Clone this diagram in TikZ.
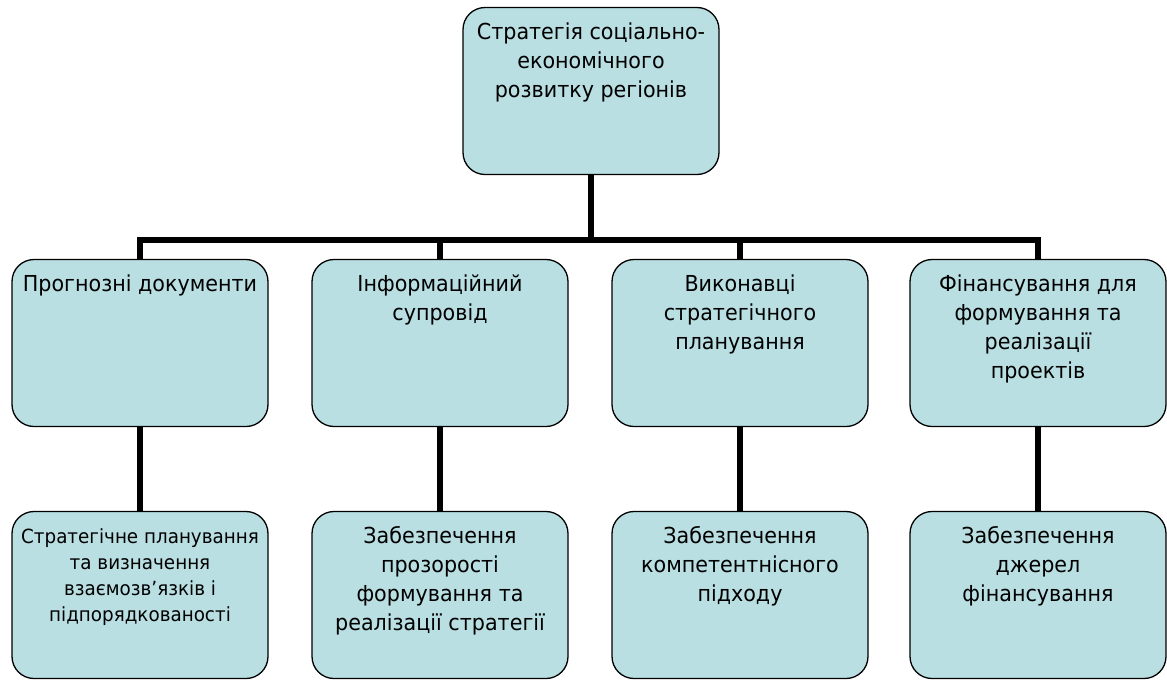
\documentclass[tikz,border=0pt]{standalone}
\usepackage{fontspec}
\setmainfont{DejaVu Sans}[FakeStretch=0.94]
\definecolor{boxblue}{RGB}{185,223,227}
\tikzset{
orgunit/.style={draw, line width=1.3pt, fill=boxblue, rounded corners=22pt,
  minimum width=256pt, minimum height=167pt, inner sep=0pt},
link/.style={line width=6pt, line join=miter}
}
\newcommand{\orgbox}[4]{%
\node[orgunit] (#1) at (#2,#3) {\parbox[t][143pt][t]{250pt}{\centering\fontsize{22}{29}\selectfont\strut #4}};
}

\begin{document}
\begin{tikzpicture}[x=1pt,y=-1pt]
\useasboundingbox (0,0) rectangle (1167,680);

\coordinate (bar) at (0,240);

\orgbox{top}{591}{91}{Стратегія соціально-\\економічного\\розвитку регіонів}

\orgbox{task1}{140}{343}{Прогнозні документи}
\orgbox{task2}{440}{343}{Інформаційний\\супровід}
\orgbox{task3}{740}{343}{Виконавці\\стратегічного\\планування}
\orgbox{task4}{1038}{343}{Фінансування для\\формування та\\реалізації\\проектів}

\orgbox{aim1}{140}{595}{\fontsize{19.5}{26}\selectfont Стратегічне планування\\та визначення\\взаємозв’язків і\\підпорядкованості}
\orgbox{aim2}{440}{595}{Забезпечення\\прозорості\\формування та\\реалізації стратегії}
\orgbox{aim3}{740}{595}{Забезпечення\\компетентнісного\\підходу}
\orgbox{aim4}{1038}{595}{Забезпечення\\джерел\\фінансування}

\draw[link] (top.south) -- (top.south |- bar);
\draw[link] (task1.north) -- (task1.north |- bar) -- (task4.north |- bar) -- (task4.north);

\foreach \i in {2,3}
{
\draw[link] (task\i.north) -- (task\i.north |- bar);
}

\foreach \i in {1,...,4}
{
\draw[link] (task\i.south) -- (aim\i.north);
}

\end{tikzpicture}
\end{document}
